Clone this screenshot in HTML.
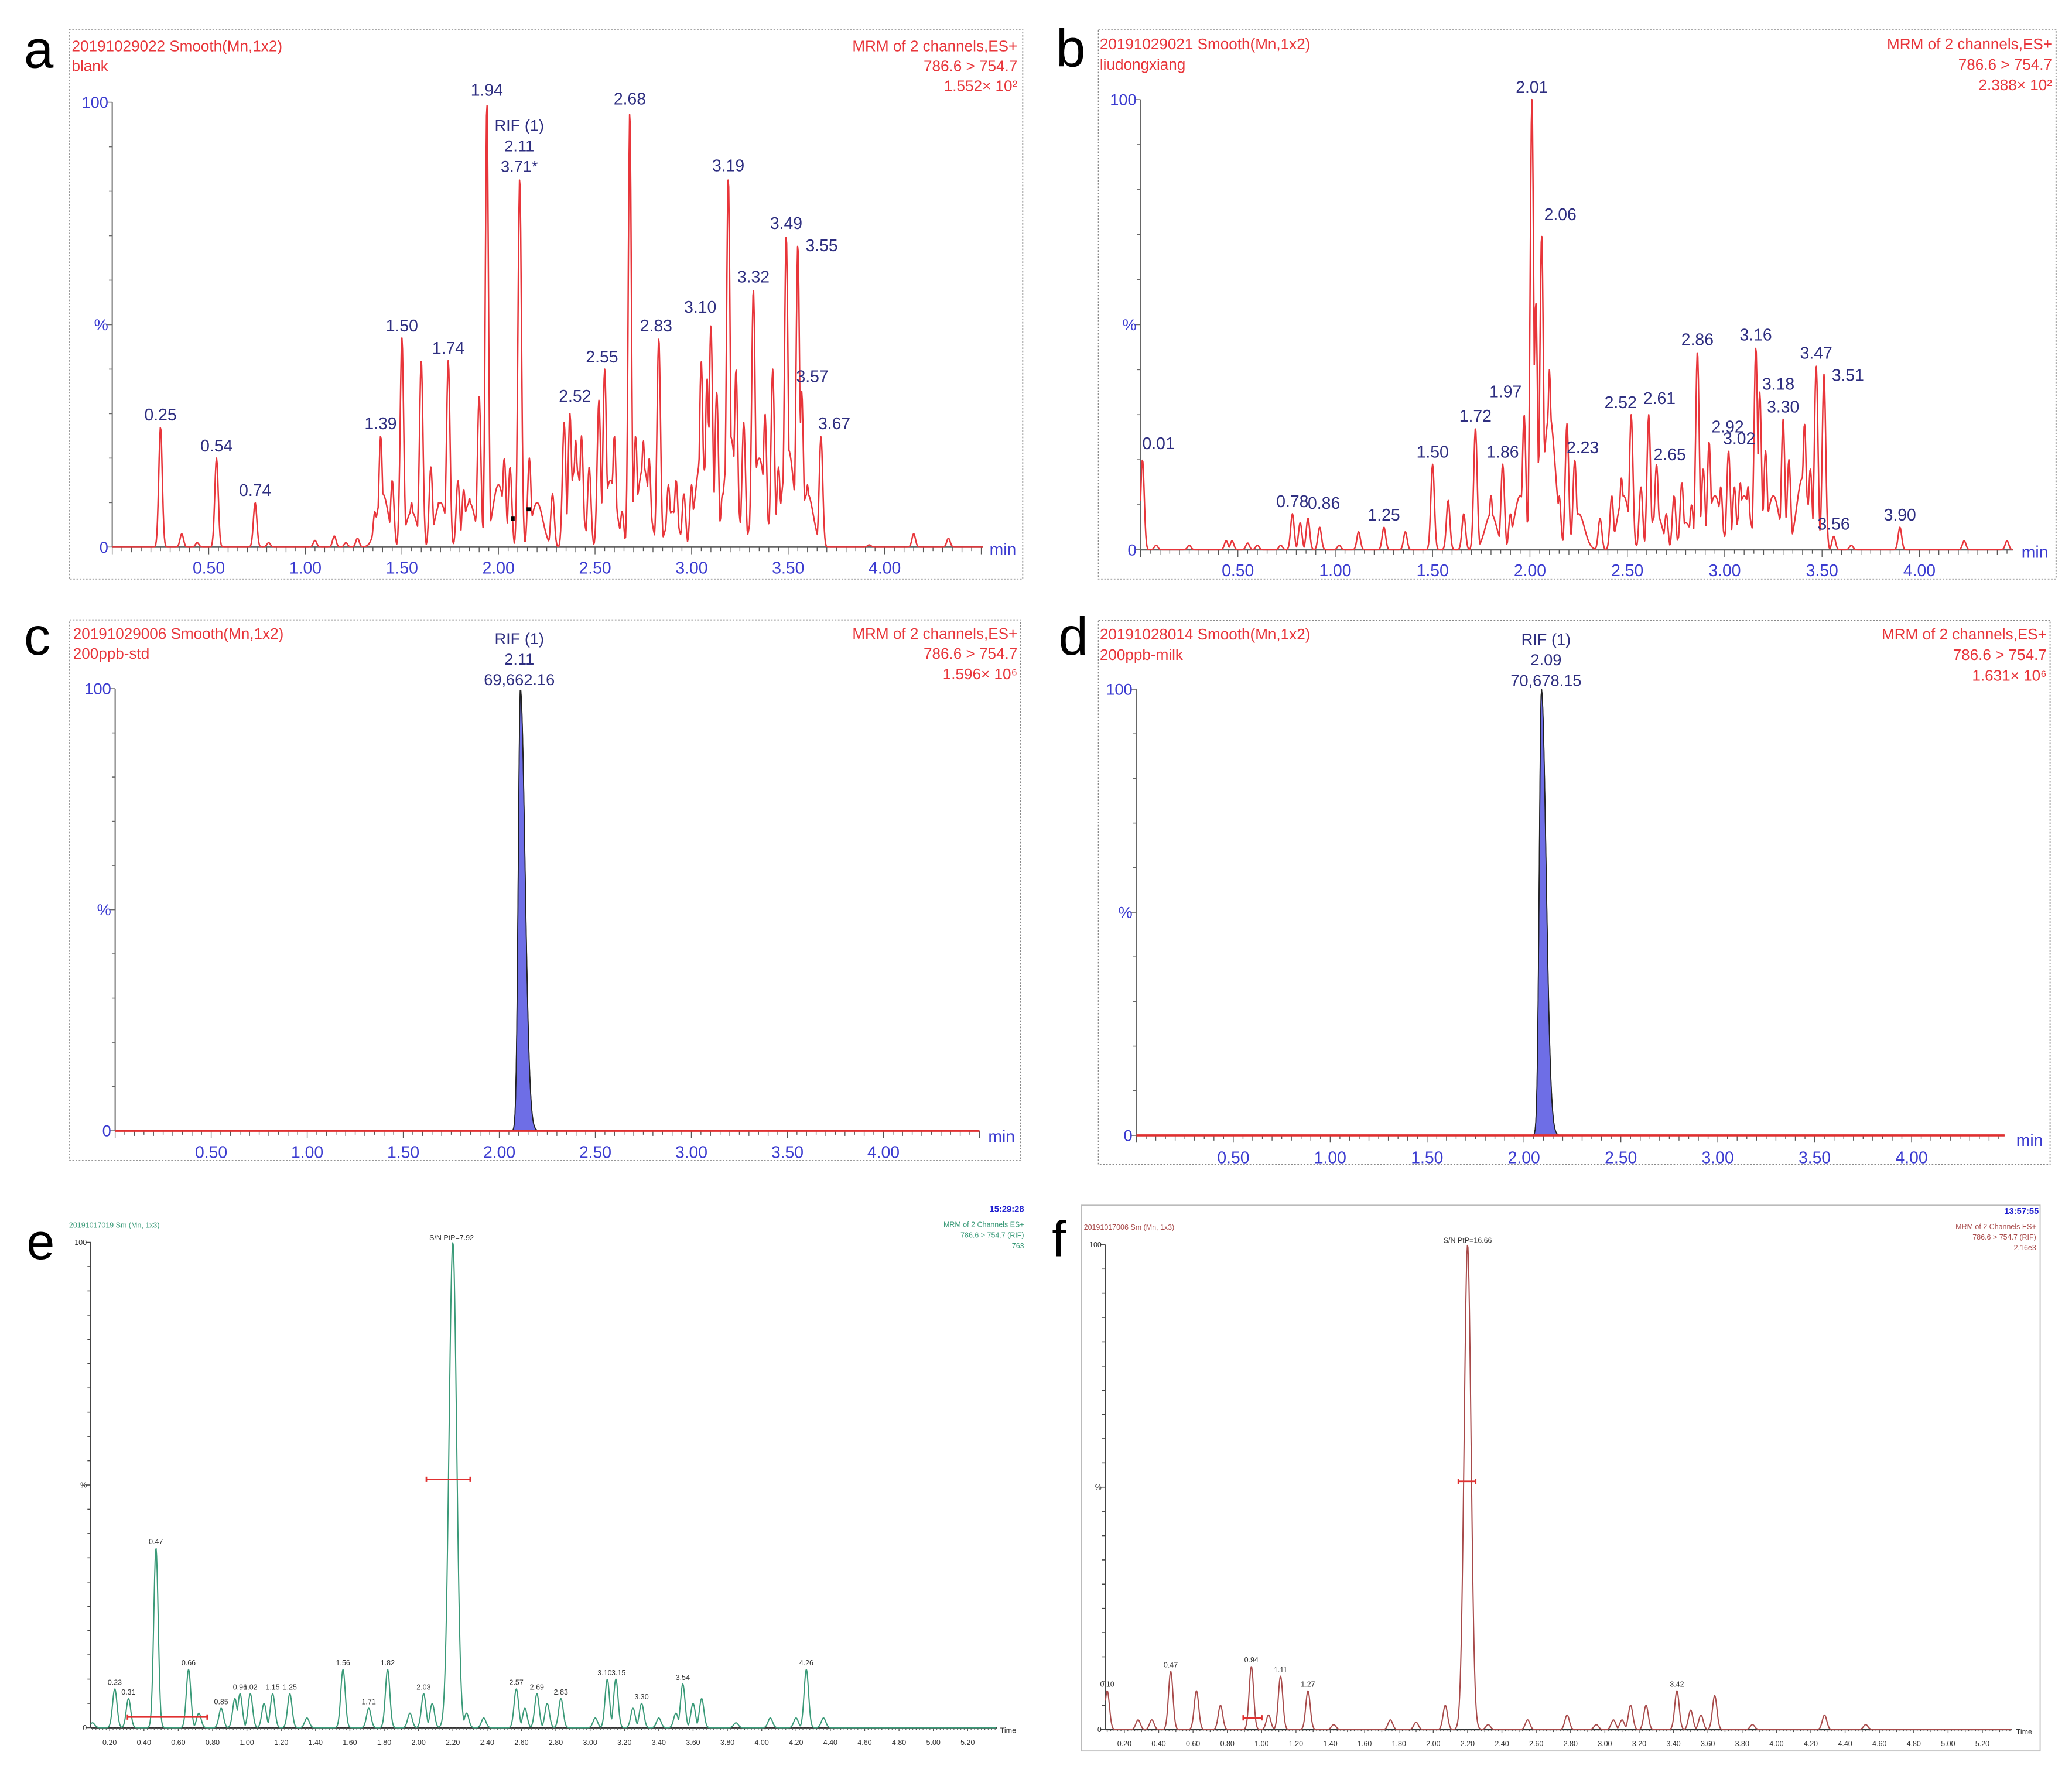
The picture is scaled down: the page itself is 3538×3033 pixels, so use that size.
<!DOCTYPE html>
<html><head><meta charset="utf-8">
<style>
html,body{margin:0;padding:0;background:#fff;}
svg{display:block;}
text{font-family:"Liberation Sans",sans-serif;}
</style></head>
<body>
<svg id="fig" width="3538" height="3033" viewBox="0 0 1560 1337.4" preserveAspectRatio="none" xmlns="http://www.w3.org/2000/svg">
<rect x="0" y="0" width="1560" height="1337.4" fill="#fff"/>
</svg>
<script>
// ---------- DATA ----------
// Panel a (blank)
const aPeakTimes=[0.25,0.36,0.44,0.54,0.74,0.81,1.05,1.15,1.21,1.27,1.36,1.39,1.45,1.50,1.55,1.60,1.65,1.69,1.74,1.79,1.82,1.85,1.90,1.94,1.99,2.03,2.06,2.11,2.16,2.22,2.28,2.34,2.37,2.40,2.43,2.47,2.52,2.55,2.60,2.64,2.68,2.71,2.75,2.78,2.83,2.88,2.92,2.96,3.00,3.05,3.08,3.10,3.13,3.16,3.19,3.23,3.27,3.32,3.35,3.38,3.42,3.45,3.49,3.52,3.55,3.57,3.60,3.67,3.92,4.15,4.33];
const aPeakHeights=[27,3,1,20,10,1,1.5,2.5,1,2,8,25,15,47,10,42,18,10,42,15,13,11,34,100,12,20,18,83,20,6,12,28,30,24,25,18,33,40,25,8,98,25,24,20,47,14,15,12,14,42,38,50,35,12,83,40,28,58,20,30,40,18,70,8,68,35,14,25,0.5,3,2];
const aBgTimes=[1.40,1.55,1.70,1.85,2.00,2.20,2.40,2.58,2.75,2.90,3.05,3.20,3.35,3.50,3.60];
const aBgHeights=[12,8,10,10,14,10,18,15,18,8,20,25,20,22,12];
const aLabels=["0.25","0.54","0.74","1.39","1.50","1.74","1.94","2.52","2.55","2.68","2.83","3.10","3.19","3.32","3.49","3.55","3.57","3.67"];
// Panel b (liudongxiang)
const bPeakTimes=[0.01,0.08,0.25,0.44,0.47,0.55,0.60,0.72,0.78,0.82,0.86,0.92,1.02,1.12,1.25,1.36,1.50,1.58,1.66,1.72,1.80,1.86,1.90,1.97,2.01,2.03,2.06,2.10,2.15,2.19,2.23,2.36,2.42,2.47,2.52,2.57,2.61,2.65,2.70,2.74,2.78,2.83,2.86,2.89,2.92,2.95,2.98,3.02,3.05,3.08,3.12,3.16,3.18,3.21,3.26,3.30,3.33,3.37,3.41,3.44,3.47,3.51,3.56,3.65,3.90,4.23,4.45];
const bPeakHeights=[20,1,1,2,2,1.5,1,1,8,6,7,5,1,4,5,4,19,11,8,27,12,19,8,30,100,55,70,40,12,28,20,7,12,16,30,14,30,19,8,12,15,10,44,18,24,12,14,22,14,15,14,45,35,22,4,29,20,8,28,18,41,39,3,1,5,2,2];
const bBgTimes=[1.80,1.95,2.10,2.25,2.48,2.65,2.80,2.95,3.10,3.25,3.40];
const bBgHeights=[8,12,30,8,12,8,6,12,12,12,16];
const bLabels=["0.01","0.78","0.86","1.25","1.50","1.72","1.86","1.97","2.01","2.06","2.23","2.52","2.61","2.65","2.86","2.92","3.02","3.16","3.18","3.30","3.47","3.51","3.56","3.90"];
// Panel c (200ppb-std)
const cPeakTimes=[2.11];
const cPeakHeights=[100];
// Panel d (200ppb-milk)
const dPeakTimes=[2.09];
const dPeakHeights=[100];
// Panel e
const ePeakTimes=[0.10,0.23,0.31,0.47,0.66,0.72,0.85,0.93,0.96,1.02,1.10,1.15,1.25,1.35,1.56,1.71,1.82,1.95,2.03,2.08,2.20,2.28,2.38,2.57,2.62,2.69,2.75,2.83,3.03,3.10,3.15,3.25,3.30,3.40,3.50,3.54,3.60,3.65,3.85,4.05,4.20,4.26,4.36];
const ePeakHeights=[1,8,6,37,12,3,4,6,7,7,5,7,7,2,12,4,12,3,7,5,100,3,2,8,4,7,5,6,2,10,10,4,5,2,3,9,5,6,1,2,2,12,2];
const eLabels=["0.23","0.31","0.47","0.66","0.85","0.96","1.02","1.15","1.25","1.56","1.71","1.82","2.03","2.57","2.69","2.83","3.10","3.15","3.30","3.54","4.26"];
// Panel f
const fPeakTimes=[0.10,0.28,0.36,0.47,0.62,0.76,0.94,1.04,1.11,1.27,1.42,1.75,1.90,2.07,2.20,2.32,2.55,2.78,2.95,3.05,3.10,3.15,3.24,3.42,3.50,3.56,3.64,3.86,4.28,4.52];
const fPeakHeights=[8,2,2,12,8,5,13,3,11,8,1,2,1.5,5,100,1,2,3,1,2,2,5,5,8,4,3,7,1,3,1];
const fLabels=["0.10","0.47","0.94","1.11","1.27","3.42"];
// tick labels
const minTicksAD=["0.50","1.00","1.50","2.00","2.50","3.00","3.50","4.00"];
const minTicksEF=["0.20","0.40","0.60","0.80","1.00","1.20","1.40","1.60","1.80","2.00","2.20","2.40","2.60","2.80","3.00","3.20","3.40","3.60","3.80","4.00","4.20","4.40","4.60","4.80","5.00","5.20"];

// ---------- RENDER ----------
const NS="http://www.w3.org/2000/svg";
const svg=document.getElementById('fig');
function el(tag,attrs,parent,text){const e=document.createElementNS(NS,tag);for(const k in attrs)e.setAttribute(k,attrs[k]);if(text!==undefined)e.textContent=text;(parent||svg).appendChild(e);return e;}

function makeScale(p){return {x:t=>p.x0+t*p.ppm, y:v=>p.y0-(p.y0-p.y100)*v/100};}
function signal(times,heights,t,w,mainW){let m=0;for(let i=0;i<times.length;i++){const ww=heights[i]>=90?mainW:w;const d=(t-times[i])/ww;const v=heights[i]*Math.exp(-0.5*d*d);if(v>m)m=v;}return m;}
function heightAt(times,heights,lab){const t=parseFloat(lab);let best=0,bd=1e9;for(let i=0;i<times.length;i++){const d=Math.abs(times[i]-t);if(d<bd){bd=d;best=heights[i];}}return best;}

function panel(p){
  const g=el('g',{},svg);
  
  
  const s=makeScale(p);
  if(p.box){const b=el('rect',{x:p.box[0],y:p.box[1],width:p.box[2]-p.box[0],height:p.box[3]-p.box[1],fill:'none',stroke:p.boxColor||'#888','stroke-width':p.boxW||0.8,'stroke-dasharray':p.boxDash||'1.2,1.2'},g);
    }
  const L=el('text',{x:p.letter[0],y:p.letter[1],'font-size':p.letterSize||40,fill:'#000'},g,p.letterText);
  
  p.headL.forEach((h,i)=>{const t=el('text',{x:h[1],y:h[2],'font-size':p.hSize,fill:p.hColor},g,h[0]);
    });
  p.headR.forEach((h,i)=>{const t=el('text',{x:h[1],y:h[2],'font-size':h[3]||p.hSize,fill:h[4]||p.hColor,'text-anchor':'end','font-weight':h[5]||'normal'},g,h[0]);
    });
  const ax=s.x(p.tA);
  const ya=el('line',{x1:ax,y1:p.y0,x2:ax,y2:p.y100,stroke:p.axisColor,'stroke-width':0.9},g);
  
  for(let v=0;v<=100;v+=p.yMinor){const y=s.y(v);el('line',{x1:ax-(v%50===0?4:2.5),y1:y,x2:ax,y2:y,stroke:p.axisColor,'stroke-width':0.7},g);}
  [['100',100],['%',50],['0',0]].forEach(a=>{const t=el('text',{x:ax-3,y:s.y(a[1])+p.ySize*0.35,'font-size':p.ySize,fill:p.yColor,'text-anchor':'end'},g,a[0]);
    });
  const xa=el('line',{x1:ax,y1:p.y0,x2:s.x(p.tB),y2:p.y0,stroke:p.xAxisColor||p.axisColor,'stroke-width':p.xAxisW||1.2},g);
  
  for(let t=Math.ceil(p.tA/p.tickMinor)*p.tickMinor;t<=p.tB+1e-9;t+=p.tickMinor){const maj=Math.abs(t/p.tickMajor-Math.round(t/p.tickMajor))<1e-6;const mid=Math.abs(t/(p.tickMid)-Math.round(t/p.tickMid))<1e-6;
    el('line',{x1:s.x(t),y1:p.y0,x2:s.x(t),y2:p.y0+(maj?p.tickLen*1.8:mid?p.tickLen*1.3:p.tickLen),stroke:'#555','stroke-width':0.6},g);}
  p.ticks.forEach(lab=>{const t=el('text',{x:s.x(parseFloat(lab)),y:p.tickY,'font-size':p.tSize,fill:p.tColor,'text-anchor':'middle'},g,lab);
    });
  const un=el('text',{x:p.unit[1],y:p.unit[2],'font-size':p.unit[3],fill:p.tColor},g,p.unit[0]);
  
  const pts=[];
  for(let t=p.tA;t<=p.tB;t+=0.003){let v;
    if(p.asym){v=0;for(let i=0;i<p.times.length;i++){const dt=t-p.times[i];const sg=dt<0?0.011:0.024;v=Math.max(v,p.heights[i]*Math.exp(-0.5*(dt/sg)*(dt/sg)));}}
    else{v=signal(p.times,p.heights,t,p.w,p.mainW);if(p.bgT)v=Math.max(v,signal(p.bgT,p.bgH,t,0.03,0.03));}
    pts.push([s.x(t),s.y(v)]);}
  const d=pts.map((q,i)=>(i?'L':'M')+q[0].toFixed(2)+' '+q[1].toFixed(2)).join('');
  if(p.asym){const fpts=pts.filter(q=>q[0]>=s.x(p.times[0]-0.045)&&q[0]<=s.x(p.times[0]+0.11));
    const fd='M'+fpts[0][0]+' '+p.y0+fpts.map(q=>'L'+q[0].toFixed(2)+' '+q[1].toFixed(2)).join('')+'L'+fpts[fpts.length-1][0]+' '+p.y0+'Z';
    const f=el('path',{d:fd,fill:'#6e6ee6',stroke:'#222','stroke-width':0.7},g);
    }
  const tr=el('path',{d:d,fill:'none',stroke:p.color,'stroke-width':p.lw||1.1,'stroke-linejoin':'round'},g);
  
  if(p.asym){const bl=el('line',{x1:ax,y1:p.y0,x2:s.x(p.tB),y2:p.y0,stroke:'#e03030','stroke-width':1.6},g);}
  (p.labels||[]).forEach(lab=>{const h=heightAt(p.times,p.heights,lab);const off=(p.labOff&&p.labOff[lab])||[0,0];
    const t=el('text',{x:s.x(parseFloat(lab))+off[0],y:s.y(h)-p.labGap+off[1],'font-size':p.lSize,fill:p.lColor,'text-anchor':'middle'},g,lab);
    });
  (p.extra||[]).forEach(x=>{const t=el('text',{x:x[1],y:x[2],'font-size':x[3],fill:x[4],'text-anchor':'middle'},g,x[0]);
    });
  (p.bars||[]).forEach(b=>{const l=el('line',{x1:b[0],y1:b[2],x2:b[1],y2:b[2],stroke:'#e03030','stroke-width':1.2},g);
    
    el('line',{x1:b[0],y1:b[2]-2,x2:b[0],y2:b[2]+2,stroke:'#e03030','stroke-width':1.2},g);el('line',{x1:b[1],y1:b[2]-2,x2:b[1],y2:b[2]+2,stroke:'#e03030','stroke-width':1.2},g);});
  return g;
}
const RED='#e8353a',NAVY='#2e2e80',BLUE='#3b3bd0';
panel({name:'panel-a',x0:84.5,ppm:145.4,y0:412,y100:77,tA:0,tB:4.51,times:aPeakTimes,heights:aPeakHeights,bgT:aBgTimes,bgH:aBgHeights,w:0.009,mainW:0.008,color:RED,
 box:[52,22,770,436],letter:[18,51],letterText:'a',headL:[['20191029022 Smooth(Mn,1x2)',54,38.5],['blank',54,53.5]],headR:[['MRM of 2 channels,ES+',766,38.5],['786.6 > 754.7',766,53.5],['1.552× 10²',766,68.5]],
 hSize:11.5,hColor:RED,axisColor:'#666',yMinor:10,ySize:12,yColor:BLUE,tickMinor:0.05,tickMid:0.1,tickMajor:0.5,tickLen:3,ticks:minTicksAD,tickY:432,tSize:12.5,tColor:BLUE,unit:['min',745,418,12.5],
 labels:aLabels,lSize:12.5,lColor:NAVY,labGap:5,labOff:{'2.52':[-18,6],'3.55':[18,10],'3.57':[8,-2],'3.67':[10,0],'3.10':[-8,-4],'2.55':[-2,0],'2.83':[-2,0]},
 extra:[['RIF (1)',391,98.5,12,NAVY],['2.11',391,114,12,NAVY],['3.71*',391,129.5,12,NAVY]]});
el('rect',{x:384.5,y:389,width:3,height:3,fill:'#000'});el('rect',{x:396.5,y:382,width:3,height:3,fill:'#000'});
panel({name:'panel-b',x0:858.7,ppm:146.6,y0:414,y100:75,tA:0,tB:4.48,times:bPeakTimes,heights:bPeakHeights,bgT:bBgTimes,bgH:bBgHeights,w:0.009,mainW:0.009,color:RED,
 box:[827,22,1548,436],letter:[795,50],letterText:'b',headL:[['20191029021 Smooth(Mn,1x2)',828,37],['liudongxiang',828,52.5]],headR:[['MRM of 2 channels,ES+',1545,37],['786.6 > 754.7',1545,52.5],['2.388× 10²',1545,68]],
 hSize:11.5,hColor:RED,axisColor:'#666',yMinor:10,ySize:12,yColor:BLUE,tickMinor:0.05,tickMid:0.1,tickMajor:0.5,tickLen:3,ticks:minTicksAD,tickY:434,tSize:12.5,tColor:BLUE,unit:['min',1522,420,12.5],
 labels:bLabels,lSize:12.5,lColor:NAVY,labGap:5,labOff:{'0.01':[12,-3],'0.86':[12,-2],'1.97':[-14,-8],'2.06':[14,-6],'2.23':[6,0],'2.52':[-8,0],'2.61':[8,-3],'2.65':[10,2],'2.92':[14,-2],'3.02':[8,0],'3.18':[14,3],'3.30':[0,0],'3.51':[18,10],'3.56':[0,0]}});
panel({name:'panel-c',x0:86.7,ppm:144.6,y0:851.5,y100:518.6,tA:0,tB:4.5,times:cPeakTimes,heights:cPeakHeights,asym:true,color:'#222',lw:0.8,
 box:[52.5,466.8,768.5,874],letter:[18,493],letterText:'c',headL:[['20191029006 Smooth(Mn,1x2)',55,481],['200ppb-std',55,496]],headR:[['MRM of 2 channels,ES+',766,481],['786.6 > 754.7',766,496],['1.596× 10⁶',766,511.5]],
 hSize:11.5,hColor:RED,axisColor:'#666',xAxisColor:'#666',yMinor:10,ySize:12,yColor:BLUE,tickMinor:0.05,tickMid:0.1,tickMajor:0.5,tickLen:3,ticks:minTicksAD,tickY:872,tSize:12.5,tColor:BLUE,unit:['min',744,860,12.5],
 extra:[['RIF (1)',391,485,12,NAVY],['2.11',391,500.5,12,NAVY],['69,662.16',391,516,12,NAVY]]});
panel({name:'panel-d',x0:855.6,ppm:145.9,y0:855,y100:519,tA:0,tB:4.48,times:dPeakTimes,heights:dPeakHeights,asym:true,color:'#222',lw:0.8,
 box:[827,467,1543.5,877],letter:[797,493],letterText:'d',headL:[['20191028014 Smooth(Mn,1x2)',828,481.5],['200ppb-milk',828,497]],headR:[['MRM of 2 channels,ES+',1541,481.5],['786.6 > 754.7',1541,497],['1.631× 10⁶',1541,512.5]],
 hSize:11.5,hColor:RED,axisColor:'#666',xAxisColor:'#666',yMinor:10,ySize:12,yColor:BLUE,tickMinor:0.05,tickMid:0.1,tickMajor:0.5,tickLen:3,ticks:minTicksAD,tickY:876,tSize:12.5,tColor:BLUE,unit:['min',1518,863,12.5],
 extra:[['RIF (1)',1164,485.5,12,NAVY],['2.09',1164,501,12,NAVY],['70,678.15',1164,516.5,12,NAVY]]});
const GREEN='#3a9a78';
panel({name:'panel-e',x0:56.7,ppm:129.2,y0:1301,y100:935.5,tA:0.09,tB:5.37,times:ePeakTimes,heights:ePeakHeights,w:0.013,mainW:0.022,color:GREEN,lw:0.9,
 letter:[20,948],letterText:'e',letterSize:38,headL:[['20191017019 Sm (Mn, 1x3)',52,924.5]],headR:[['15:29:28',771,912.5,6.5,'#2020d0','bold'],['MRM of 2 Channels ES+',771,924],['786.6 > 754.7 (RIF)',771,932],['763',771,940]],
 hSize:5.5,hColor:GREEN,axisColor:'#444',xAxisColor:'#333',xAxisW:1.3,yMinor:5,ySize:5.5,yColor:'#333',tickMinor:0.02,tickMid:0.1,tickMajor:0.2,tickLen:1.5,ticks:minTicksEF,tickY:1314,tSize:5.5,tColor:'#333',unit:['Time',753,1305,5.5],
 labels:eLabels,lSize:5.5,lColor:'#333',labGap:3,labOff:{'3.10':[-2,0],'3.15':[2,0]},
 extra:[['S/N PtP=7.92',340,934,5.5,'#333']],bars:[[96,156,1293],[321,354,1114]]});
const BROWN='#a84a4a';
panel({name:'panel-f',x0:820.7,ppm:129.2,y0:1302.4,y100:937.4,tA:0.09,tB:5.37,times:fPeakTimes,heights:fPeakHeights,w:0.013,mainW:0.02,color:BROWN,lw:0.9,
 box:[814,907.6,1536,1318.5],boxColor:'#bbb',boxDash:'none',boxW:0.8,letter:[792,946],letterText:'f',letterSize:38,headL:[['20191017006 Sm (Mn, 1x3)',816,926]],headR:[['13:57:55',1535,914,6.5,'#2020d0','bold'],['MRM of 2 Channels ES+',1533,925.5],['786.6 > 754.7 (RIF)',1533,933.5],['2.16e3',1533,941.5]],
 hSize:5.5,hColor:BROWN,axisColor:'#444',xAxisColor:'#333',xAxisW:1.3,yMinor:5,ySize:5.5,yColor:'#333',tickMinor:0.02,tickMid:0.1,tickMajor:0.2,tickLen:1.5,ticks:minTicksEF,tickY:1315,tSize:5.5,tColor:'#333',unit:['Time',1518,1306,5.5],
 labels:fLabels,lSize:5.5,lColor:'#333',labGap:3,
 extra:[['S/N PtP=16.66',1105,936,5.5,'#333']],bars:[[936,950,1293.6],[1098,1111,1115.5]]});
</script>
</body></html>
